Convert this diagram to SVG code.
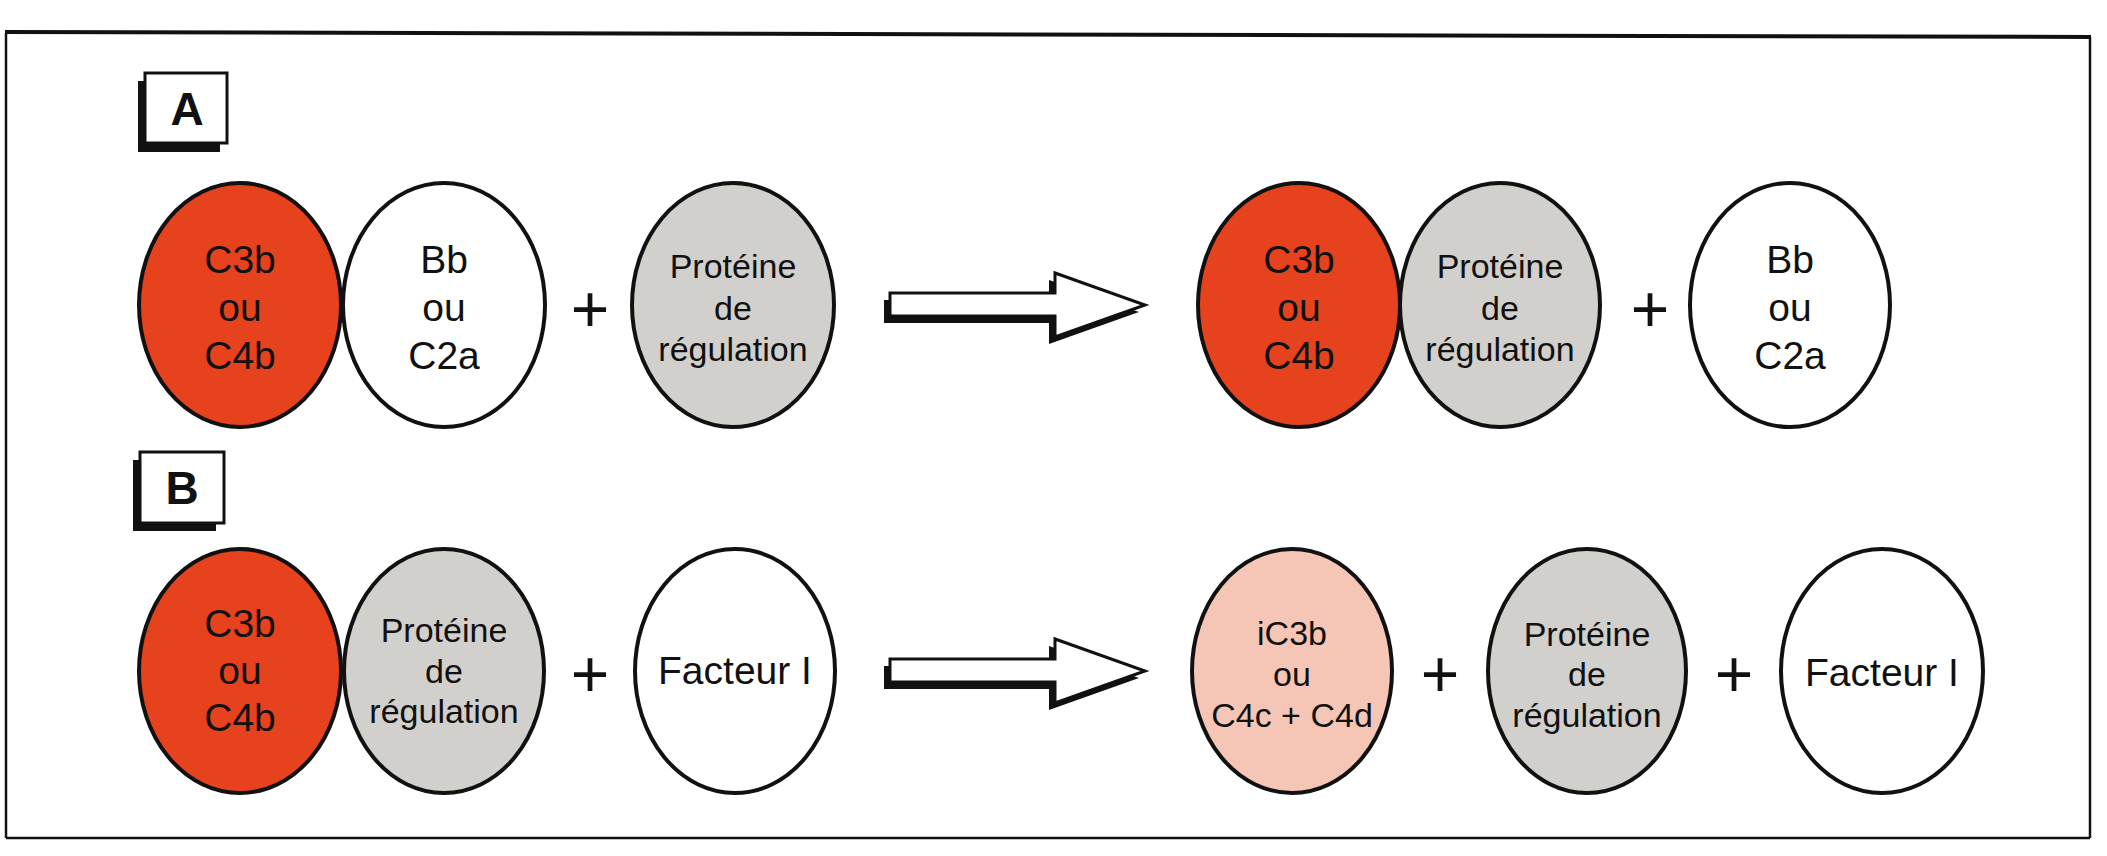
<svg xmlns="http://www.w3.org/2000/svg" width="2107" height="856" viewBox="0 0 2107 856">
<style>
.frame{fill:none;stroke:#111;stroke-width:2.5}
.e{stroke:#111;stroke-width:4}
.red{fill:#e6421d}
.grey{fill:#d1d0cc}
.white{fill:#fff}
.pink{fill:#f5c6b5}
.t{font-family:"Liberation Sans",Arial,sans-serif;fill:#111;text-anchor:middle}
.big{font-size:39px}
.mid{font-size:34px}
.lab{font-family:"Liberation Sans",Arial,sans-serif;font-weight:bold;font-size:46px;fill:#111;text-anchor:middle}
.plus{font-family:"Liberation Sans",Arial,sans-serif;font-size:66px;fill:#111;text-anchor:middle}
.box{fill:#fff;stroke:#111;stroke-width:3}
.shadow{fill:#111}
.arr{fill:#fff;stroke:#111;stroke-width:3;stroke-linejoin:miter}
</style>
<defs>
<polygon id="arrowShape" points="0,-12 165,-12 165,-32 255,0 165,32 165,11 0,11"/>
</defs>
<rect width="2107" height="856" fill="#fff"/>
<g id="frame">
<line x1="6" y1="33" x2="6" y2="838" class="frame"/>
<line x1="2090" y1="37" x2="2090" y2="838" class="frame"/>
<line x1="6" y1="838" x2="2090" y2="838" class="frame"/>
<line x1="5" y1="32" x2="2091" y2="37" stroke="#111" stroke-width="4"/>
</g>
<g id="label-A">
<rect x="138" y="81" width="82" height="71" class="shadow"/>
<rect x="145" y="73" width="82" height="70" class="box"/>
<text x="187" y="125" class="lab">A</text>
</g>
<g id="label-B">
<rect x="133" y="460" width="83" height="71" class="shadow"/>
<rect x="140" y="452" width="84" height="71" class="box"/>
<text x="182" y="504" class="lab">B</text>
</g>
<g id="connectors">
<g transform="translate(890,305)">
<use href="#arrowShape" transform="translate(-6,7)" class="shadow"/>
<use href="#arrowShape" class="arr"/>
</g>
<g transform="translate(890,671)">
<use href="#arrowShape" transform="translate(-6,7)" class="shadow"/>
<use href="#arrowShape" class="arr"/>
</g>
</g>
<g id="A-C3b">
<ellipse cx="240" cy="305" rx="101" ry="122" class="e red"/>
<text class="t big"><tspan x="240" y="273">C3b</tspan><tspan x="240" y="321">ou</tspan><tspan x="240" y="369">C4b</tspan></text>
</g>
<g id="A-Bb">
<ellipse cx="444" cy="305" rx="101" ry="122" class="e white"/>
<text class="t big"><tspan x="444" y="273">Bb</tspan><tspan x="444" y="321">ou</tspan><tspan x="444" y="369">C2a</tspan></text>
</g>
<g id="A-plus1"><text x="590" y="332" class="plus">+</text></g>
<g id="A-reg">
<ellipse cx="733" cy="305" rx="101" ry="122" class="e grey"/>
<text class="t mid"><tspan x="733" y="278">Protéine</tspan><tspan x="733" y="320">de</tspan><tspan x="733" y="361">régulation</tspan></text>
</g>
<g id="A-C3b-out">
<ellipse cx="1299" cy="305" rx="101" ry="122" class="e red"/>
<text class="t big"><tspan x="1299" y="273">C3b</tspan><tspan x="1299" y="321">ou</tspan><tspan x="1299" y="369">C4b</tspan></text>
</g>
<g id="A-reg-out">
<ellipse cx="1500" cy="305" rx="100" ry="122" class="e grey"/>
<text class="t mid"><tspan x="1500" y="278">Protéine</tspan><tspan x="1500" y="320">de</tspan><tspan x="1500" y="361">régulation</tspan></text>
</g>
<g id="A-plus2"><text x="1650" y="332" class="plus">+</text></g>
<g id="A-Bb-out">
<ellipse cx="1790" cy="305" rx="100" ry="122" class="e white"/>
<text class="t big"><tspan x="1790" y="273">Bb</tspan><tspan x="1790" y="321">ou</tspan><tspan x="1790" y="369">C2a</tspan></text>
</g>
<g id="B-C3b">
<ellipse cx="240" cy="671" rx="101" ry="122" class="e red"/>
<text class="t big"><tspan x="240" y="637">C3b</tspan><tspan x="240" y="684">ou</tspan><tspan x="240" y="731">C4b</tspan></text>
</g>
<g id="B-reg">
<ellipse cx="444" cy="671" rx="100" ry="122" class="e grey"/>
<text class="t mid"><tspan x="444" y="642">Protéine</tspan><tspan x="444" y="683">de</tspan><tspan x="444" y="723">régulation</tspan></text>
</g>
<g id="B-plus1"><text x="590" y="697" class="plus">+</text></g>
<g id="B-facteur">
<ellipse cx="735" cy="671" rx="100" ry="122" class="e white"/>
<text x="735" y="684" class="t big">Facteur I</text>
</g>
<g id="B-iC3b">
<ellipse cx="1292" cy="671" rx="100" ry="122" class="e pink"/>
<text class="t mid"><tspan x="1292" y="645">iC3b</tspan><tspan x="1292" y="686">ou</tspan><tspan x="1292" y="727">C4c + C4d</tspan></text>
</g>
<g id="B-plus2"><text x="1440" y="697" class="plus">+</text></g>
<g id="B-reg-out">
<ellipse cx="1587" cy="671" rx="99" ry="122" class="e grey"/>
<text class="t mid"><tspan x="1587" y="646">Protéine</tspan><tspan x="1587" y="686">de</tspan><tspan x="1587" y="727">régulation</tspan></text>
</g>
<g id="B-plus3"><text x="1734" y="697" class="plus">+</text></g>
<g id="B-facteur-out">
<ellipse cx="1882" cy="671" rx="101" ry="122" class="e white"/>
<text x="1882" y="686" class="t big">Facteur I</text>
</g>
</svg>
